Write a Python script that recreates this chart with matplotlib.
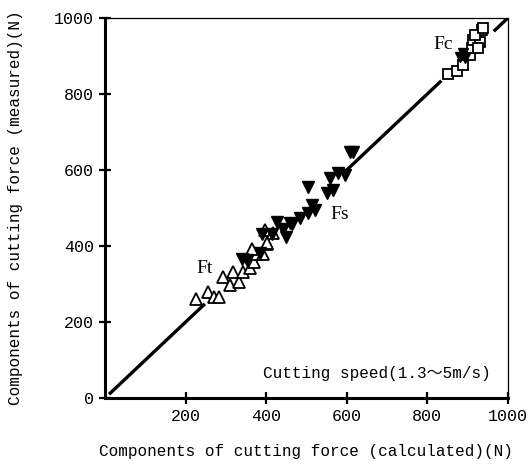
import matplotlib
matplotlib.use("Agg")
import matplotlib.pyplot as plt

FONT = ['Liberation Mono', 'Noto Sans CJK JP', 'DejaVu Sans']
plt.rcParams['font.family'] = FONT

# Ft (open up-triangles): calculated, measured
ft_calc = [225, 256, 270, 284, 293, 310, 317, 332, 342, 360, 370, 378, 393, 403, 364, 397, 417, 402]
ft_meas = [260, 280, 266, 267, 318, 297, 331, 305, 331, 342, 359, 379, 379, 405, 392, 442, 434, 407]

# Fs (filled down-triangles)
fs_calc = [339, 352, 385, 389, 414, 426, 442, 449, 459, 463, 484, 505, 513, 521, 505, 550, 558, 567, 579, 596, 608, 616]
fs_meas = [367, 363, 381, 433, 433, 464, 446, 425, 460, 459, 473, 486, 508, 495, 556, 539, 578, 547, 591, 587, 648, 648]

# Fc (open squares)
fc_calc = [852, 873, 889, 906, 910, 914, 931, 935, 918, 926, 939]
fc_meas = [852, 861, 876, 903, 920, 942, 938, 968, 955, 920, 973]
# Fc overlapping filled markers
fcf_calc = [881, 889, 893]
fcf_meas = [898, 907, 895]

# y = x reference line segments
line_segments = [(10, 248), (590, 835), (965, 1000)]

ticks = [0, 200, 400, 600, 800, 1000]

fig = plt.figure(figsize=(5.29, 4.70), dpi=100)
ax = fig.add_axes([0.1985, 0.153, 0.7615, 0.8087])

for a, b in line_segments:
    ax.plot([a, b], [a, b], color='black', lw=2.4, solid_capstyle='butt', zorder=2)

ax.plot(ft_calc, ft_meas, linestyle='none', marker='^', markersize=8,
        markerfacecolor='white', markeredgecolor='black', markeredgewidth=1.3, zorder=3)
ax.plot(fs_calc, fs_meas, linestyle='none', marker='v', markersize=8,
        markerfacecolor='black', markeredgecolor='black', markeredgewidth=1.0, zorder=4)
ax.plot(fc_calc, fc_meas, linestyle='none', marker='s', markersize=7,
        markerfacecolor='white', markeredgecolor='black', markeredgewidth=1.3, zorder=3)
ax.plot(fcf_calc, fcf_meas, linestyle='none', marker='v', markersize=7,
        markerfacecolor='black', markeredgecolor='black', markeredgewidth=1.0, zorder=4)

ax.text(248, 342, 'Ft', fontsize=14, fontfamily=['Liberation Serif'], ha='center', va='center')
ax.text(583, 482, 'Fs', fontsize=14, fontfamily=['Liberation Serif'], ha='center', va='center')
ax.text(839, 929, 'Fc', fontsize=14, fontfamily=['Liberation Serif'], ha='center', va='center')
ax.text(675, 66, 'Cutting speed(1.3〜5m/s)', fontsize=11.5, ha='center', va='center')

ax.set_xlim(0, 1000)
ax.set_ylim(0, 1000)
ax.set_xticks(ticks[1:])
ax.set_yticks(ticks)
ax.tick_params(direction='inout', length=8, width=1.6, labelsize=12, pad=4)

for s in ['left', 'bottom']:
    ax.spines[s].set_linewidth(2.2)
for s in ['top', 'right']:
    ax.spines[s].set_linewidth(0.9)

ax.set_xlabel('Components of cutting force (calculated)(N)', fontsize=11.5, labelpad=14)
ax.set_ylabel('Components of cutting force (measured)(N)', fontsize=11.5, labelpad=22)

fig.savefig('out.png', dpi=100)
